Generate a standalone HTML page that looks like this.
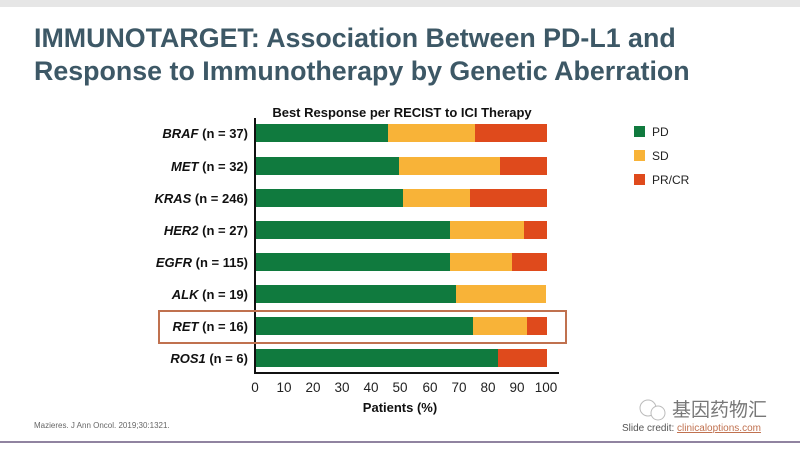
<!DOCTYPE html>
<html><head><meta charset="utf-8"><style>
body{margin:0;width:800px;height:450px;background:#fff;overflow:hidden;font-family:"Liberation Sans","Noto Sans CJK SC",sans-serif;}
</style></head><body>
<svg width="800" height="450" xmlns="http://www.w3.org/2000/svg" font-family="Liberation Sans, Noto Sans CJK SC, sans-serif">
<rect x="0" y="0" width="800" height="7" fill="#e6e6e6"/>
<text x="34" y="47" font-size="26.8" font-weight="bold" fill="#3d5866">IMMUNOTARGET: Association Between PD-L1 and</text>
<text x="34" y="80" font-size="26.8" font-weight="bold" fill="#3d5866">Response to Immunotherapy by Genetic Aberration</text>
<text x="402" y="117" font-size="13" font-weight="bold" text-anchor="middle" fill="#111">Best Response per RECIST to ICI Therapy</text>
<line x1="255" y1="118" x2="255" y2="374" stroke="#111" stroke-width="2"/>
<line x1="254" y1="373" x2="559" y2="373" stroke="#111" stroke-width="2"/>
<g font-size="13.5" fill="#222" text-anchor="middle">
<text x="255" y="392">0</text><text x="284" y="392">10</text><text x="313" y="392">20</text><text x="342" y="392">30</text><text x="371" y="392">40</text><text x="400" y="392">50</text><text x="430" y="392">60</text><text x="459" y="392">70</text><text x="488" y="392">80</text><text x="517" y="392">90</text><text x="546" y="392">100</text>
</g>
<text x="400" y="412" font-size="13" font-weight="bold" text-anchor="middle" fill="#111">Patients (%)</text>
<g font-size="13" font-weight="bold" text-anchor="end" fill="#111">
<text x="248" y="138"><tspan font-style="italic">BRAF</tspan> (n = 37)</text>
<text x="248" y="171"><tspan font-style="italic">MET</tspan> (n = 32)</text>
<text x="248" y="203"><tspan font-style="italic">KRAS</tspan> (n = 246)</text>
<text x="248" y="235"><tspan font-style="italic">HER2</tspan> (n = 27)</text>
<text x="248" y="267"><tspan font-style="italic">EGFR</tspan> (n = 115)</text>
<text x="248" y="299"><tspan font-style="italic">ALK</tspan> (n = 19)</text>
<text x="248" y="331"><tspan font-style="italic">RET</tspan> (n = 16)</text>
<text x="248" y="363"><tspan font-style="italic">ROS1</tspan> (n = 6)</text>
</g>
<g>
<rect x="256" y="124" width="132" height="18" fill="#107a3e"/><rect x="388" y="124" width="87" height="18" fill="#f8b338"/><rect x="475" y="124" width="72" height="18" fill="#df4a1c"/>
<rect x="256" y="157" width="143" height="18" fill="#107a3e"/><rect x="399" y="157" width="101" height="18" fill="#f8b338"/><rect x="500" y="157" width="47" height="18" fill="#df4a1c"/>
<rect x="256" y="189" width="147" height="18" fill="#107a3e"/><rect x="403" y="189" width="67" height="18" fill="#f8b338"/><rect x="470" y="189" width="77" height="18" fill="#df4a1c"/>
<rect x="256" y="221" width="194" height="18" fill="#107a3e"/><rect x="450" y="221" width="74" height="18" fill="#f8b338"/><rect x="524" y="221" width="23" height="18" fill="#df4a1c"/>
<rect x="256" y="253" width="194" height="18" fill="#107a3e"/><rect x="450" y="253" width="62" height="18" fill="#f8b338"/><rect x="512" y="253" width="35" height="18" fill="#df4a1c"/>
<rect x="256" y="285" width="200" height="18" fill="#107a3e"/><rect x="456" y="285" width="90" height="18" fill="#f8b338"/>
<rect x="256" y="317" width="217" height="18" fill="#107a3e"/><rect x="473" y="317" width="54" height="18" fill="#f8b338"/><rect x="527" y="317" width="20" height="18" fill="#df4a1c"/>
<rect x="256" y="349" width="242" height="18" fill="#107a3e"/><rect x="498" y="349" width="49" height="18" fill="#df4a1c"/>
</g>
<rect x="159" y="311" width="407" height="32" fill="none" stroke="#c0714f" stroke-width="2"/>
<rect x="634" y="126" width="11" height="11" fill="#107a3e"/><text x="652" y="136" font-size="12" fill="#222">PD</text>
<rect x="634" y="150" width="11" height="11" fill="#f8b338"/><text x="652" y="160" font-size="12" fill="#222">SD</text>
<rect x="634" y="174" width="11" height="11" fill="#df4a1c"/><text x="652" y="184" font-size="12" fill="#222">PR/CR</text>
<text x="34" y="428" font-size="8" fill="#666">Mazieres. J Ann Oncol. 2019;30:1321.</text>
<circle cx="648" cy="408" r="8" fill="none" stroke="#bbb"/><circle cx="658" cy="413" r="7" fill="#fff" stroke="#bbb"/>
<text x="672" y="416" font-size="19" fill="#777">基因药物汇</text>
<text x="622" y="431" font-size="10" fill="#555">Slide credit: <tspan fill="#c0714f" text-decoration="underline">clinicaloptions.com</tspan></text>
<line x1="0" y1="442" x2="800" y2="442" stroke="#6b5a80" stroke-width="1.5"/>
</svg>
</body></html>
